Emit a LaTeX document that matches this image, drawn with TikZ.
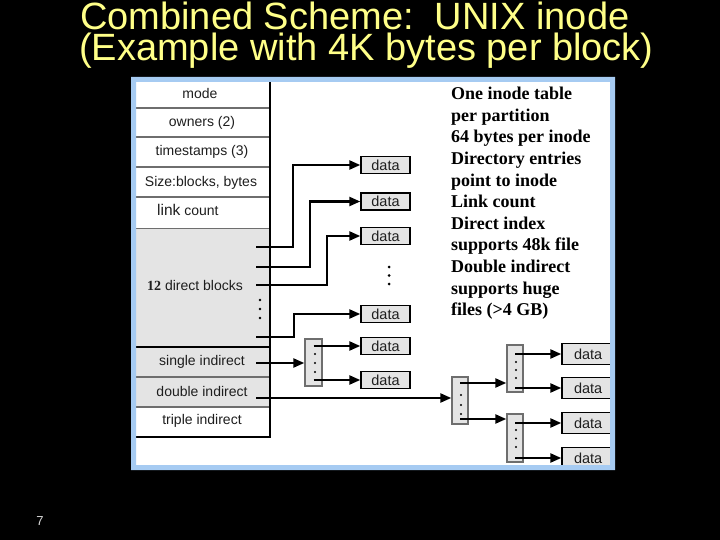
\documentclass[tikz,border=0pt]{standalone}
\usepackage{fontspec}
\setmainfont{Liberation Serif}
\setsansfont{Liberation Sans}
\usetikzlibrary{arrows.meta}
\definecolor{titleyellow}{HTML}{FFFF88}
\definecolor{panelblue}{HTML}{A6CBF2}
\definecolor{cellgray}{HTML}{E4E4E4}
\definecolor{divgray}{HTML}{6E6E6E}
\definecolor{celltext}{HTML}{1E1E1E}
\tikzset{
  conn/.style={line width=2.3pt, -{Triangle[length=11pt,width=9pt]}},
  databox/.style={draw=black, line width=1.4pt, fill=cellgray, minimum width=49pt, minimum height=17pt, inner sep=0pt, font=\sffamily\fontsize{14.5}{16}\selectfont, text=celltext},
  bigdata/.style={databox, minimum width=51pt, minimum height=21pt, text width=51pt, align=left, text depth=0pt},
  idxblock/.style={draw=divgray, line width=1.4pt, fill=cellgray, minimum width=16pt, minimum height=47pt, inner sep=0pt},
  celltxt/.style={font=\sffamily\fontsize{14}{16}\selectfont, text=celltext, inner sep=0pt},
  divider/.style={draw=divgray, line width=1.3pt},
  dot/.style={fill=black},
  titletxt/.style={font=\sffamily\fontsize{38}{31}\selectfont, text=titleyellow, inner sep=0pt, align=left}
}
\begin{document}
\begin{tikzpicture}[x=1pt,y=-1pt]
\fill[black] (0,0) rectangle (720,540);
\useasboundingbox (0,0) rectangle (720,540);

% title
\node[titletxt, anchor=base west] (title) at (80,61) {Combined Scheme:\ \ UNIX inode\\\hspace*{-1pt}(Example with 4K bytes per block)};

% panel
\fill[white] (131,77) rectangle (615,470);

% inode table
\fill[cellgray] (136,228) rectangle (270,407);
\draw[divider] (136,108) -- (270,108);
\draw[divider] (136,137) -- (270,137);
\draw[divider] (136,167) -- (270,167);
\draw[divider] (136,197) -- (270,197);
\draw[divider, line width=0.6pt] (136,228) -- (270,228);
\draw[black, line width=1.6pt] (136,347) -- (270,347);
\draw[divider] (136,377) -- (270,377);
\draw[divider] (136,407) -- (270,407);
\draw[black, line width=1.6pt] (136,437) -- (270,437);
\draw[black, line width=1.6pt] (270,82) -- (270,437.8);

\node[celltxt] (mode) at (200,93) {mode};
\node[celltxt] (owners) at (202,122.5) {owners (2)};
\node[celltxt] (stamps) at (202,152) {timestamps (3)};
\node[celltxt] (size) at (201,183) {Size:blocks, bytes};
\node[celltxt, anchor=base west] (link) at (157,215) {{\fontsize{15.5}{16}\selectfont link} count};
\node[celltxt, anchor=base west] (direct) at (147,290) {{\rmfamily\bfseries 12} direct blocks};
\node[celltxt] (single) at (202,362) {single indirect};
\node[celltxt] (double) at (202,391.5) {double indirect};
\node[celltxt] (triple) at (202,421) {triple indirect};

% dots in the direct blocks column
\fill[dot] (260,300) circle (1.3);
\fill[dot] (260,309) circle (1.3);
\fill[dot] (260,318) circle (1.3);

% start points of pointers
\coordinate (s1) at (256,247);
\coordinate (s2) at (256,267);
\coordinate (s3) at (256,285);
\coordinate (s4) at (256,337);
\coordinate (s5) at (256,363);
\coordinate (s6) at (256,398);

% direct data blocks
\node[databox] (d1) at (385.5,165) {data};
\node[databox] (d2) at (385.5,201.5) {data};
\node[databox] (d3) at (385.5,236) {data};
\node[databox] (d4) at (385.5,314) {data};
\node[databox] (d5) at (385.5,346) {data};
\node[databox] (d6) at (385.5,380) {data};

\fill[dot] (389,267) circle (1.5);
\fill[dot] (389,275.5) circle (1.5);
\fill[dot] (389,284) circle (1.5);

\draw[conn] (s1) -- ++(37,0) |- (d1.west);
\draw[conn] (s2) -- ++(54,0) |- (d2.west);
\draw[conn] (s3) -- ++(71,0) |- (d3.west);
\draw[conn] (s4) -- ++(38,0) |- (d4.west);

% single indirect
\node[idxblock, minimum width=17pt] (sib) at (313.5,362.5) {};
\fill[dot] (315,354) circle (1.2);
\fill[dot] (315,363) circle (1.2);
\fill[dot] (315,372) circle (1.2);
\draw[conn] (s5) -- (s5 -| sib.west);
\draw[conn] (sib.center |- d5.west) -- (d5.west);
\draw[conn] (sib.center |- d6.west) -- (d6.west);

% double indirect
\node[idxblock] (dib) at (460,400.5) {};
\fill[dot] (461,395) circle (1.2);
\fill[dot] (461,405) circle (1.2);
\fill[dot] (461,414) circle (1.2);
\draw[conn] (s6) -- (s6 -| dib.west);

\node[idxblock] (b2a) at (515,368.5) {};
\node[idxblock, minimum height=48pt] (b2b) at (515,438) {};
\fill[dot] (516,362) circle (1.2);
\fill[dot] (516,370) circle (1.2);
\fill[dot] (516,378) circle (1.2);
\fill[dot] (516,430) circle (1.2);
\fill[dot] (516,438.5) circle (1.2);
\fill[dot] (516,447) circle (1.2);

\coordinate (c1) at (460,383);
\coordinate (c2) at (460,419);
\draw[conn] (c1) -- (c1 -| b2a.west);
\draw[conn] (c2) -- (c2 -| b2b.west);

\node[bigdata] (e1) at (587.5,354) {\hspace{12pt}data};
\node[bigdata] (e2) at (587.5,388) {\hspace{12pt}data};
\node[bigdata] (e3) at (587.5,423) {\hspace{12pt}data};
\node[bigdata] (e4) at (587.5,458) {\hspace{12pt}data};
\draw[conn] (b2a.center |- e1.west) -- (e1.west);
\draw[conn] (b2a.center |- e2.west) -- (e2.west);
\draw[conn] (b2b.center |- e3.west) -- (e3.west);
\draw[conn] (b2b.center |- e4.west) -- (e4.west);

% notes
\node[anchor=north west, align=left, inner sep=0pt, font=\bfseries\fontsize{18}{21.6}\selectfont, text=black] (notes) at (451,87)
 {One inode table\\per partition\\64 bytes per inode\\Directory entries\\point to inode\\Link count\\Direct index\\supports 48k file\\Double indirect\\supports huge\\files (>4 GB)};

% panel border
\fill[panelblue, even odd rule] (131,77) rectangle (615,470) (136,82) rectangle (610,465);

% page number
\node[font=\sffamily\fontsize{13}{14}\selectfont, text=white!85!black, inner sep=0pt] (pageno) at (40,521) {7};
\end{tikzpicture}
\end{document}
